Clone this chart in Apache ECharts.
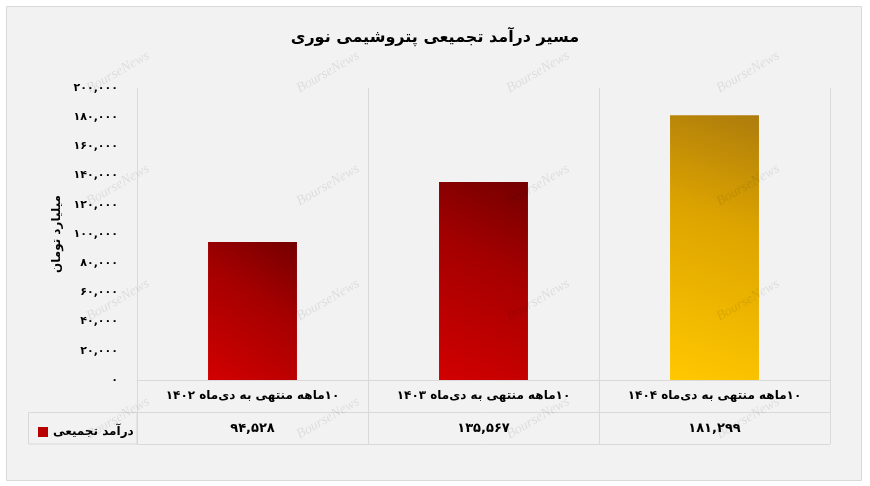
<!DOCTYPE html>
<html>
<head>
<meta charset="utf-8">
<script src="https://cdn.jsdelivr.net/npm/echarts@6/dist/echarts.min.js"></script>
<style>
html,body{margin:0;padding:0;background:#fff;}
#c{width:870px;height:486px;}
</style>
</head>
<body>
<div id="c"></div>
<script>
const title = 'مسیر درآمد تجمیعی پتروشیمی نوری';
const yName = 'میلیارد تومان';
const seriesName = 'درآمد تجمیعی';
const categories = ['10ماهه منتهی به دی‌ماه 1402', '10ماهه منتهی به دی‌ماه 1403', '10ماهه منتهی به دی‌ماه 1404'];
const values = [94528, 135567, 181299];
const yMin = 0, yMax = 200000, yStep = 20000;

const FA = '۰۱۲۳۴۵۶۷۸۹';
const fa = s => String(s).replace(/[0-9]/g, d => FA[d]);
const fmt = v => fa(Number(v).toLocaleString('en-US'));
const rtl = s => '\u202B' + s + '\u202C';
const FONT = 'DejaVu Sans';

const redGrad = new echarts.graphic.LinearGradient(0, 1, 1, 0, [
  {offset: 0, color: '#d20000'}, {offset: 0.6, color: '#a40000'}, {offset: 1, color: '#740000'}]);
const goldGrad = new echarts.graphic.LinearGradient(0, 1, 1, 0, [
  {offset: 0, color: '#ffc800'}, {offset: 0.6, color: '#dda400'}, {offset: 1, color: '#ad7c0c'}]);

const wm = [];
[72, 185, 300, 418].forEach(y => [118, 328, 538, 748].forEach(x => {
  wm.push({type: 'text', x: x, y: y, rotation: Math.PI / 6, z: 50,
    style: {text: 'BourseNews', font: 'italic 14px "Liberation Serif"', fill: 'rgba(0,0,0,0.09)', align: 'center', verticalAlign: 'middle'}});
}));

const chart = echarts.init(document.getElementById('c'));
chart.setOption({
  backgroundColor: '#ffffff',
  animation: false,
  title: {
    text: rtl(title), left: 'center', top: 25,
    textStyle: {fontFamily: FONT, fontSize: 16, fontWeight: 'bold', color: '#000'}
  },
  grid: {left: 137, right: 40, top: 88, bottom: 106},
  legend: {
    data: [{name: seriesName, itemStyle: {color: '#b80000'}}],
    left: 33, top: 421, icon: 'rect', itemWidth: 10, itemHeight: 10, itemGap: 6,
    textStyle: {fontFamily: FONT, fontSize: 12, fontWeight: 'bold', color: '#000'}
  },
  graphic: [
    {type: 'rect', shape: {x: 6.5, y: 6.5, width: 855, height: 474}, z: -10,
      style: {fill: '#f2f2f2', stroke: '#d9d9d9', lineWidth: 1}},
    {type: 'rect', shape: {x: 28.5, y: 412.5, width: 108.5, height: 31.5}, z: -5,
      style: {fill: 'none', stroke: '#d9d9d9', lineWidth: 1}}
  ].concat(wm),
  xAxis: [
    {
      type: 'category', data: categories, position: 'bottom',
      axisLine: {show: true, lineStyle: {color: '#d9d9d9'}},
      axisTick: {show: true, length: 64, interval: 0, lineStyle: {color: '#d9d9d9'}},
      splitLine: {show: true, interval: 0, lineStyle: {color: '#d9d9d9'}},
      axisLabel: {interval: 0, margin: 10, formatter: v => rtl(fa(v)),
        fontFamily: FONT, fontSize: 12, fontWeight: 'bold', color: '#000'}
    },
    {
      type: 'category', data: values.map(fmt), position: 'bottom', offset: 32,
      axisLine: {show: true, lineStyle: {color: '#d9d9d9'}},
      axisTick: {show: false},
      axisLabel: {interval: 0, margin: 10,
        fontFamily: FONT, fontSize: 13, fontWeight: 'bold', color: '#000'}
    },
    {
      type: 'category', data: categories, position: 'bottom', offset: 64,
      axisLine: {show: true, lineStyle: {color: '#d9d9d9'}},
      axisTick: {show: false}, axisLabel: {show: false}
    }
  ],
  yAxis: {
    type: 'value', min: yMin, max: yMax, interval: yStep,
    name: rtl(yName), nameLocation: 'middle', nameGap: 74, nameRotate: 90,
    nameTextStyle: {fontFamily: FONT, fontSize: 12, fontWeight: 'bold', color: '#000'},
    axisLine: {show: false}, axisTick: {show: false}, splitLine: {show: false},
    axisLabel: {margin: 19, formatter: v => fmt(v),
      fontFamily: FONT, fontSize: 11, fontWeight: 'bold', color: '#000'}
  },
  series: [{
    name: seriesName, type: 'bar', xAxisIndex: 0, barWidth: '38.5%',
    itemStyle: {color: redGrad},
    data: values.map((v, i) => i === 2 ? {value: v, itemStyle: {color: goldGrad}} : v)
  }]
});
</script>
</body>
</html>
